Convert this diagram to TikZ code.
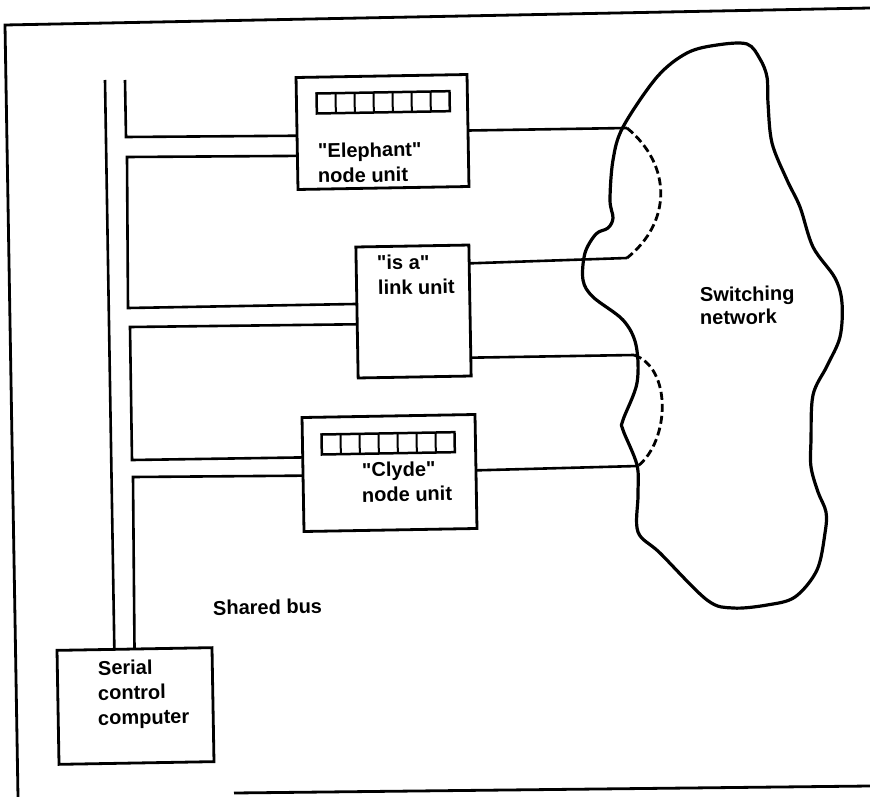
\documentclass[tikz,border=0pt]{standalone}
\usepackage{fontspec}
\setmainfont{Liberation Sans}
\newfontfamily\lblfont{Liberation Sans Bold}
\usetikzlibrary{calc}
\begin{document}
\begin{tikzpicture}[x=1pt,y=-1pt,
  box/.style={draw, line width=2.8pt, rotate=1, inner sep=0pt, outer sep=0pt},
  lbl/.style={font=\lblfont\fontsize{20}{25}\selectfont, inner sep=0pt, anchor=base west, rotate=1},
  wire/.style={line width=2.6pt},
  loopline/.style={line width=2.8pt, dash pattern=on 8pt off 4pt},
  cloudline/.style={line width=3.2pt, line join=round},
  frameline/.style={line width=2.8pt},
  register/.pic={
    \draw[line width=2.5pt] (0,0) rectangle (133,20);
    \foreach \i in {1,...,6} \draw[line width=2pt] (\i*19,0) -- (\i*19,20);
  }]
\useasboundingbox (0,0) rectangle (870,797);

% frame
\draw[frameline] (870,8) -- (5,25) -- (18,797);
\draw[frameline] (234,793) -- (870,786);

% boxes
\node[box, minimum width=171pt, minimum height=112pt] (eleph) at (382.5,132) {};
\node[box, minimum width=113pt, minimum height=131pt] (isa) at (413.5,311.5) {};
\node[box, minimum width=173pt, minimum height=114pt] (clyde) at (389.5,473) {};
\node[box, minimum width=155pt, minimum height=114pt] (comp) at (135.5,706) {};

% registers
\pic[rotate=1] at (316.5,93.5) {register};
\pic[rotate=1] at (321.5,434.5) {register};

% labels
\node[lbl] (elT1) at (318,158) {\textquotedbl Elephant\textquotedbl};
\node[lbl] (elT2) at (318,183) {node unit};
\node[lbl] (isT1) at (377,270) {\textquotedbl is a\textquotedbl};
\node[lbl] (isT2) at (378,295) {link unit};
\node[lbl] (clT1) at (362,477) {\textquotedbl Clyde\textquotedbl};
\node[lbl] (clT2) at (362,502) {node unit};
\node[lbl] (scT1) at (98,675) {Serial};
\node[lbl] (scT2) at (98,700) {control};
\node[lbl] (scT3) at (98,725) {computer};
\node[lbl] (busT) at (213,615) {Shared bus};
\node[lbl] (swT1) at (700,302) {Switching};
\node[lbl] (swT2) at (700,325) {network};

% shared bus
\coordinate (lbTop) at (105,80);
\coordinate (rbTop) at (125,80);
\coordinate (j1) at (126,137);
\coordinate (j2) at (127,157);
\coordinate (j3) at (128,308);
\coordinate (j4) at (130,327);
\coordinate (j5) at (132,460);
\coordinate (j6) at (133,477);

\draw[wire] (lbTop) -- ($(comp.north west)!0.37!(comp.north east)$);
\draw[wire] (rbTop) -- (j1) -- ($(eleph.north west)!0.52!(eleph.south west)$);
\draw[wire] ($(eleph.north west)!0.70!(eleph.south west)$) -- (j2) -- (j3) -- ($(isa.north west)!0.435!(isa.south west)$);
\draw[wire] ($(isa.north west)!0.59!(isa.south west)$) -- (j4) -- (j5) -- ($(clyde.north west)!0.35!(clyde.south west)$);
\draw[wire] ($(clyde.north west)!0.51!(clyde.south west)$) -- (j6) -- ($(comp.north west)!0.5!(comp.north east)$);

% links to switching network
\coordinate (c1) at (627,128);
\coordinate (c2) at (627,258);
\coordinate (c3) at (634,355);
\coordinate (c4) at (638,466);
\draw[wire] ($(eleph.north east)!0.5!(eleph.south east)$) -- (c1);
\draw[loopline] (c1) .. controls (672,165) and (672,222) .. (c2);
\draw[wire] (c2) -- ($(isa.north east)!0.14!(isa.south east)$);
\draw[wire] ($(isa.north east)!0.86!(isa.south east)$) -- (c3);
\draw[loopline] (c3) .. controls (672,368) and (670,440) .. (c4);
\draw[wire] ($(clyde.north east)!0.49!(clyde.south east)$) -- (c4);

% switching network cloud
\draw[cloudline] plot[smooth cycle, tension=0.55] coordinates {
  (687,53) (717,45) (747,44) (760,59) (767,77) (768,103) (772,143)
  (787,180) (800,207) (813,247) (835,278) (842,303) (840,337) (827,366)
  (813,395) (811,440) (811,467) (818,492) (826,512) (825,533) (817,570)
  (795,597) (767,605) (733,608) (707,600) (660,553) (638,532) (638,495)
  (637,465) (623,430) (623,420) (637,383) (636,345) (623,320) (593,297)
  (583,280) (585,253) (596,234) (608,228) (613,218) (610,200) (613,160)
  (623,127) (657,77)};
\end{tikzpicture}
\end{document}
